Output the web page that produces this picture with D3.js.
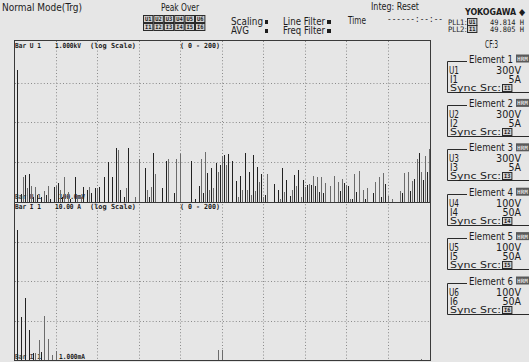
<!DOCTYPE html>
<html>
<head>
<meta charset="utf-8">
<script src="https://cdn.jsdelivr.net/npm/d3@7"></script>
<style>
  html, body { margin: 0; padding: 0; background: #e6e6e6; }
  svg { display: block; }
</style>
</head>
<body>
<svg id="screen" width="529" height="362"></svg>
<script>
// ---- Harmonic bar data (order 0 .. 200) ----
const orderRange = [0, 200];

// U1 voltage harmonics, volts (orders not listed are below the display floor)
const u1Orders = [1,3,4,5,6,7,8,9,10,11,13,14,15,16,17,19,20,21,22,23,24,26,27,29,30,32,33,35,36,37,39,40,41,43,45,47,49,50,51,53,54,55,58,60,63,64,65,66,67,68,71,73,74,77,78,80,85,87,89,90,91,92,93,94,95,96,97,98,99,100,101,102,103,105,107,108,109,110,111,112,113,114,115,116,117,118,119,120,121,122,125,127,128,129,130,131,133,134,135,136,137,138,139,140,141,142,143,144,145,146,147,148,149,150,152,154,156,157,158,159,160,161,162,163,164,165,166,168,169,170,173,174,176,177,178,179,180,182,186,187,188,190,191,192,193,194,195,196,197,198,199,200];
const u1Volts = [209,0.16,0.42,0.48,0.22,0.51,0.25,0.134,0.24,0.15,0.134,0.19,0.15,0.25,0.12,0.24,0.25,0.30,0.20,0.13,0.43,0.18,0.12,0.43,0.15,0.13,0.24,0.20,0.24,0.17,0.22,0.22,0.24,0.43,1.01,0.43,2.28,2.03,0.20,0.13,0.22,2.3,0.134,1.2,0.72,0.2,0.134,0.24,1.71,0.51,0.22,1.07,1.2,0.17,1.2,1.61,1.07,0.12,0.25,1.2,0.17,1.8,0.55,0.2,0.72,0.22,0.96,0.56,0.85,1.44,1.52,0.85,1.58,1.05,0.34,0.13,0.45,0.2,1.75,0.2,0.56,0.15,1.52,0.19,0.74,0.31,0.51,0.13,0.15,0.51,0.28,0.2,0.12,0.72,0.18,0.35,0.14,0.2,0.48,0.25,0.64,0.13,0.36,0.24,0.27,0.28,0.27,0.45,0.25,0.43,0.18,0.42,0.17,0.3,0.25,0.45,0.31,0.19,0.39,0.3,0.27,0.25,0.12,0.12,0.51,0.18,0.6,0.2,0.12,0.23,0.17,0.31,0.43,0.13,0.55,0.28,0.14,0.12,0.19,0.17,0.55,0.56,0.19,0.34,0.38,1.2,1.75,0.58,0.35,1.44,0.58,2.2];

// I1 current harmonics, amperes
const i1Orders = [1,3,5,7,9,10,12,13,14,16,18,20,98,100,196];
const i1Amps = [1.95,0.0123,0.0365,0.00574,0.00153,0.0015,0.0032,0.00162,0.0132,0.00334,0.00137,0.00169,0.0018,0.0018,0.00105];

// Log-scale limits and their labels
const voltDomain = [0.1, 1000];
const ampDomain = [0.001, 10];
const voltScaleLabels = ["1.000kV", "100.0mV"];
const ampScaleLabels = ["10.00 A", "1.000mA"];

// Element setup panel
const elementNames = ["Element 1","Element 2","Element 3","Element 4","Element 5","Element 6"];
const voltRanges = ["300V","300V","300V","100V","100V","100V"];
const ampRanges = ["5A","5A","5A","50A","50A","50A"];
const peakVoltFlags = ["U1","U2","U3","U4","U5","U6"];
const peakAmpFlags = ["I1","I2","I3","I4","I5","I6"];

// ---- Drawing ----
const svg = d3.select("#screen");
const FONT = "'DejaVu Sans Condensed','DejaVu Sans',sans-serif";
const MONO = "'DejaVu Sans Mono',monospace";
const INK = "#1c1c1c";

function label(g, x, y, s, o = {}) {
  const t = g.append("text")
    .attr("x", x).attr("y", y).text(s)
    .attr("font-family", o.family || FONT)
    .attr("font-size", o.size || 10)
    .attr("fill", o.fill || INK);
  if (o.anchor) t.attr("text-anchor", o.anchor);
  if (o.weight) t.attr("font-weight", o.weight);
  if (o.len) t.attr("textLength", o.len).attr("lengthAdjust", "spacingAndGlyphs");
  return t;
}

svg.append("rect").attr("width", 529).attr("height", 362).attr("fill", "#e6e6e6");

// ---- Status header ----
const head = svg.append("g");
label(head, 2, 11, "Normal Mode(Trg)", {size: 11, len: 80});
label(head, 180, 11, "Peak Over", {size: 11, len: 38, anchor: "middle"});

function flagBox(g, bx, by, s) {
  g.append("rect").attr("x", bx + 0.5).attr("y", by + 0.5).attr("width", 9.4).attr("height", 7)
    .attr("fill", "#d2d2d2").attr("stroke", "#2a2a2a").attr("stroke-width", 1);
  label(g, bx + 5.2, by + 6.3, s, {size: 6, anchor: "middle", family: MONO, weight: "bold", len: 6.5});
}
peakVoltFlags.forEach((s, i) => flagBox(head, 143 + i * 10.4, 15, s));
peakAmpFlags.forEach((s, i) => flagBox(head, 143 + i * 10.4, 23, s));

label(head, 231, 25, "Scaling", {size: 10, len: 32});
head.append("rect").attr("x", 265).attr("y", 20).attr("width", 3).attr("height", 4).attr("fill", INK);
label(head, 231, 34, "AVG", {size: 10, len: 18});
head.append("rect").attr("x", 265).attr("y", 29).attr("width", 3).attr("height", 4).attr("fill", INK);

label(head, 283, 25, "Line Filter", {size: 10, len: 42});
head.append("rect").attr("x", 327).attr("y", 20).attr("width", 4).attr("height", 4).attr("fill", INK);
label(head, 283, 34, "Freq Filter", {size: 10, len: 42});
head.append("rect").attr("x", 327).attr("y", 29).attr("width", 4).attr("height", 4).attr("fill", INK);

label(head, 348, 24, "Time", {size: 10, len: 18});
label(head, 371, 10, "Integ: Reset", {size: 10.5, len: 48});
label(head, 387, 22, "------:--:--", {size: 9, len: 56, family: MONO});

label(head, 465, 15, "YOKOGAWA \u25C6", {size: 9.5, weight: "bold", len: 60});

label(head, 448, 24.5, "PLL1:", {size: 7.5, len: 19});
flagBox(head, 467, 18, "U1");
label(head, 490, 24.5, "49.814 H", {size: 7.5, family: MONO, len: 34});
label(head, 448, 31.5, "PLL2:", {size: 7.5, len: 19});
flagBox(head, 467, 25, "I1");
label(head, 490, 31.5, "49.805 H", {size: 7.5, family: MONO, len: 34});

label(head, 485, 48, "CF:3", {size: 10, len: 13});

// ---- Bar graph panel ----
const x = d3.scaleLinear().domain(orderRange).range([14.5, 429]);
const yU = d3.scaleLog().domain(voltDomain).range([202, 43]);
const yI = d3.scaleLog().domain(ampDomain).range([360, 202]);

const plot = svg.append("g");

// dotted grid: every 20 orders, one line per decade
const gridX = d3.range(20, 200, 20);
plot.selectAll("line.gx").data(gridX).join("line")
  .attr("x1", d => Math.round(x(d)) + 0.5).attr("x2", d => Math.round(x(d)) + 0.5)
  .attr("y1", 41).attr("y2", 360)
  .attr("stroke", "#8a8a8a").attr("stroke-dasharray", "1,2.2");

const decadeLines = [
  ...[1, 10, 100].map(v => yU(v)),
  ...[0.01, 0.1, 1].map(v => yI(v))
];
plot.selectAll("line.gy").data(decadeLines).join("line")
  .attr("x1", 15).attr("x2", 430)
  .attr("y1", d => Math.round(d) + 0.5).attr("y2", d => Math.round(d) + 0.5)
  .attr("stroke", "#8a8a8a").attr("stroke-dasharray", "1,2.2");

function barColor(k) { return k % 2 ? "#222" : "#6c6c6c"; }

function drawBars(orders, values, y, floor) {
  const data = orders.map((k, i) => ({k, v: values[i]})).filter(d => d.v > floor);
  const base = y(floor);
  plot.append("g").selectAll("rect").data(data).join("rect")
    .attr("x", d => Math.round(x(d.k)))
    .attr("width", 1)
    .attr("y", d => Math.round(y(d.v)))
    .attr("height", d => Math.round(base) - Math.round(y(d.v)))
    .attr("fill", d => barColor(d.k))
    .attr("shape-rendering", "crispEdges");
}

// chart captions (drawn beneath the bars so bars overlap them)
function captions(yTop, yBot, name, scaleLabels) {
  const o = {size: 7, family: MONO, weight: "bold"};
  label(plot, 15, yTop, name, {...o, len: 26});
  label(plot, 55, yTop, scaleLabels[0], {...o, len: 26});
  label(plot, 90, yTop, "(log Scale)", {...o, len: 46});
  label(plot, 180, yTop, "(  0 - 200)", {...o, len: 40});
  label(plot, 15, yBot, name, {...o, len: 26, fill: "#444"});
  label(plot, 59, yBot, scaleLabels[1], {...o, len: 26});
}
captions(48, 199, "Bar U 1", voltScaleLabels);
captions(209, 359, "Bar I 1", ampScaleLabels);

drawBars(u1Orders, u1Volts, yU, voltDomain[0]);
drawBars(i1Orders, i1Amps, yI, ampDomain[0]);

// panel frame and divider between the two graphs
plot.append("rect").attr("x", 14.5).attr("y", 40.5).attr("width", 416).attr("height", 320)
  .attr("fill", "none").attr("stroke", "#3a3a3a");
plot.append("line").attr("x1", 14).attr("x2", 431).attr("y1", 202.5).attr("y2", 202.5)
  .attr("stroke", "#3a3a3a");

// ---- Element setup panel ----
const side = svg.append("g");
elementNames.forEach((name, i) => {
  const c = 58.5 + i * 44.4;
  const top = Math.round(c + 2) + 0.5, bot = Math.round(c + 33) + 0.5;
  side.append("path")
    .attr("d", `M467,${top}H447.5V${bot}H529`)
    .attr("fill", "none").attr("stroke", "#2a2a2a");
  label(side, 469, c + 4, name, {size: 10, len: 44});
  side.append("rect").attr("x", 516).attr("y", c - 4).attr("width", 13).attr("height", 8).attr("fill", "#5a5a5a");
  label(side, 517, c + 2.5, "HRM", {size: 6, fill: "#dcdcdc", weight: "bold", len: 11, family: MONO});
  label(side, 449, c + 15, "U" + (i + 1), {size: 10, len: 10});
  label(side, 521, c + 15, voltRanges[i], {size: 10, anchor: "end", len: 25});
  label(side, 450, c + 24, "I" + (i + 1), {size: 10, len: 8});
  label(side, 521, c + 24, ampRanges[i], {size: 10, anchor: "end", len: ampRanges[i].length * 6.2});
  label(side, 450, c + 32, "Sync Src:", {size: 8.5, len: 51});
  flagBox(side, 502, Math.round(c + 25), "I" + (i + 1));
});
</script>
</body>
</html>
